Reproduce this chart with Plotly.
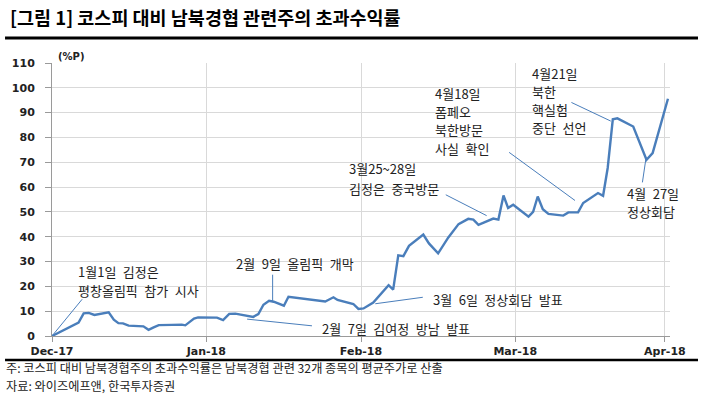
import plotly.graph_objects as go

# ---- data (x in day units from chart start, y in %P) ----
days = [0, 5.2, 6.2, 7.2, 8.3, 9.8, 11.1, 12.1, 13.0, 13.9, 15.0, 17.9, 18.9, 19.9, 20.9,
        23.5, 25.4, 26.1, 26.9, 27.8, 28.6, 32.3, 33.5, 34.7, 35.9, 39.4, 40.4, 41.4, 42.5,
        43.4, 45.4, 46.3, 53.5, 55.1, 55.9, 59.0, 60.0, 61.0, 62.9, 65.9, 66.8, 67.8, 68.8,
        69.9, 72.7, 73.8, 75.6, 77.6, 79.6, 81.5, 82.5, 83.5, 86.4, 87.4, 88.4, 89.3, 90.3,
        93.3, 94.2, 95.1, 96.1, 97.2, 100.1, 101.1, 103.0, 104.0, 106.9, 107.9, 108.8, 109.8,
        110.7, 113.8, 116.4, 117.6, 120.6]
excess = [0, 5.4, 9.1, 9.3, 8.5, 9.1, 9.5, 6.6, 5.2, 5.1, 4.2, 3.9, 2.5, 3.5, 4.4,
          4.5, 4.6, 4.3, 5.6, 7.0, 7.5, 7.4, 6.4, 8.9, 9.0, 7.7, 8.8, 12.6, 14.2,
          13.8, 12.2, 15.8, 13.9, 15.6, 14.5, 12.9, 10.9, 11.1, 13.5, 20.5, 18.7, 32.5, 32.2,
          36.3, 40.9, 37.3, 33.3, 39.7, 45.1, 47.2, 46.9, 44.8, 47.3, 46.9, 56.6, 51.6, 52.9,
          48.1, 50.0, 56.2, 51.1, 49.2, 48.5, 49.8, 49.8, 53.6, 57.6, 56.5, 67.7, 87.3,
          87.7, 84.4, 71.0, 73.7, 95.6]

tick_vals = [0, 30.2, 60.5, 90.7, 120]
tick_text = ["Dec-17", "Jan-18", "Feb-18", "Mar-18", "Apr-18"]

title = "[그림 1] 코스피 대비 남북경협 관련주의 초과수익률"
note1 = "주: 코스피 대비 남북경협주의 초과수익률은 남북경협 관련 32개 종목의 평균주가로 산출"
note2 = "자료: 와이즈에프앤, 한국투자증권"

# event labels: (text lines, x, y-values of each line)
events = [
    (["1월1일 김정은", "평창올림픽 참가 시사"], 4.75, [25.8, 18.2]),
    (["2월 9일 올림픽 개막"], 35.7, [29.4]),
    (["2월 7일 김여정 방남 발표"], 52.4, [3.2]),
    (["3월 6일 정상회담 발표"], 74.3, [14.6]),
    (["3월25~28일", "김정은 중국방문"], 57.8, [67.4, 59.3]),
    (["4월18일", "폼페오", "북한방문", "사실 확인"], 74.6, [97.9, 90.5, 83.1, 75.7]),
    (["4월21일", "북한", "핵실험", "중단 선언"], 93.6, [105.9, 98.5, 91.4, 84.2]),
    (["4월 27일", "정상회담"], 112.2, [57.6, 50.2]),
]
# leader lines (x0, y0, x1, y1) in data units
leaders = [
    (0, 0, 5.9, 14.8),
    (43.2, 24.7, 43.2, 13.9),
    (38.2, 6.8, 50.9, 4.1),
    (63.3, 13.0, 72.6, 15.6),
    (77.1, 56.9, 85.1, 48.5),
    (89.5, 74.0, 102.4, 54.6),
    (101.7, 94.1, 109.4, 86.6),
    (116.3, 71.7, 115.6, 61.9),
]

KFONT = "Noto Sans CJK KR"
LINE_COLOR = "#4a7ebb"

fig = go.Figure()
fig.add_trace(go.Scatter(x=days, y=excess, mode="lines",
                         line=dict(color=LINE_COLOR, width=2.4),
                         hoverinfo="skip", showlegend=False))

annotations = []
for lines, x, ys in events:
    for t, y in zip(lines, ys):
        annotations.append(dict(text=t.replace(" ", "\u2002"), x=x, y=y, xref="x", yref="y",
                                xanchor="left", yanchor="middle", showarrow=False,
                                font=dict(family=KFONT, size=13, color="#222222")))

annotations.append(dict(text=title, x=-0.0712, y=1.1685, xref="paper", yref="paper",
                        xanchor="left", yanchor="middle", showarrow=False,
                        font=dict(family=KFONT, size=18.5, color="#000000", weight="bold")))
annotations.append(dict(text="(%P)", x=0.0065, y=1.022, xref="paper", yref="paper",
                        xanchor="left", yanchor="middle", showarrow=False,
                        font=dict(family="DejaVu Sans", size=10, color="#222222", weight="bold")))
annotations.append(dict(text=note1, x=-0.0777, y=-0.1154, xref="paper", yref="paper",
                        xanchor="left", yanchor="middle", showarrow=False,
                        font=dict(family=KFONT, size=12.2, color="#222222")))
annotations.append(dict(text=note2, x=-0.0777, y=-0.1832, xref="paper", yref="paper",
                        xanchor="left", yanchor="middle", showarrow=False,
                        font=dict(family=KFONT, size=12.2, color="#222222")))

shapes = []
for x0, y0, x1, y1 in leaders:
    shapes.append(dict(type="line", xref="x", yref="y", x0=x0, y0=y0, x1=x1, y1=y1,
                       line=dict(color=LINE_COLOR, width=1)))
shapes.append(dict(type="line", xref="paper", yref="paper", x0=-0.076, x1=1.0453,
                   y0=1.0916, y1=1.0916, line=dict(color="#000000", width=3)))
shapes.append(dict(type="line", xref="paper", yref="paper", x0=-0.076, x1=1.0453,
                   y0=-0.0879, y1=-0.0879, line=dict(color="#000000", width=2.5)))

fig.update_layout(
    width=701, height=398,
    margin=dict(l=52, r=31, t=63, b=62),
    paper_bgcolor="white", plot_bgcolor="white",
    annotations=annotations, shapes=shapes,
    xaxis=dict(range=[0, 121], tickvals=tick_vals, ticktext=tick_text,
               showgrid=True, gridcolor="#d9d9d9", gridwidth=1,
               showline=True, linecolor="#9a9a9a", linewidth=1,
               ticks="outside", ticklen=5, tickcolor="#9a9a9a",
               tickfont=dict(family="DejaVu Sans", size=11, color="#222222", weight="bold"),
               zeroline=False, fixedrange=True),
    yaxis=dict(range=[0, 110], tickvals=list(range(0, 111, 10)),
               showgrid=True, gridcolor="#d9d9d9", gridwidth=1,
               showline=True, linecolor="#9a9a9a", linewidth=1,
               ticks="outside", ticklen=6, tickcolor="#9a9a9a",
               ticklabelstandoff=8,
               tickfont=dict(family="DejaVu Sans", size=11, color="#222222", weight="bold"),
               zeroline=False, fixedrange=True),
)

fig.write_html("out.html", config={"displayModeBar": False},
               post_script="document.body.style.margin='0';document.body.style.padding='0';")
